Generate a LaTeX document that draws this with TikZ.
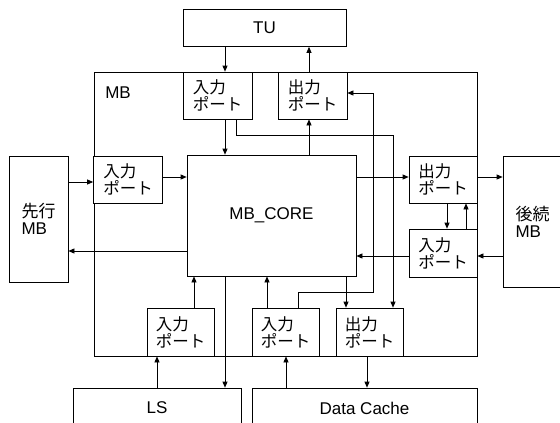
\documentclass[tikz,border=0pt]{standalone}
\usepackage{fontspec}
\setmainfont{Liberation Sans}
\newfontfamily\jp{Noto Sans CJK JP}
\usetikzlibrary{arrows.meta}
\begin{document}
\begin{tikzpicture}[x=1pt,y=-1pt,
  box/.style={draw, line width=0.7pt, inner sep=0pt, fill=white},
  port/.style={box, minimum width=69pt, minimum height=47pt, align=left, font=\jp\fontsize{16.5}{17}\selectfont},
  unit/.style={box, align=center, font=\fontsize{17}{17}\selectfont},
  arr/.style={line width=0.7pt, -{Triangle[length=6pt,width=5pt]}}]
\useasboundingbox (0,0) rectangle (560,423);
\clip (0,0) rectangle (560,423);
% columns and rows
\coordinate (x157) at (157,0); \coordinate (x194) at (194,0);
\coordinate (x225) at (225,0); \coordinate (x236) at (236,0);
\coordinate (x267) at (267,0); \coordinate (x286) at (286,0);
\coordinate (x298) at (298,0); \coordinate (x309) at (309,0);
\coordinate (x346) at (346,0); \coordinate (x367) at (367,0);
\coordinate (x373) at (373,0); \coordinate (x393) at (393,0);
\coordinate (x447) at (447,0); \coordinate (x466) at (466,0);
\coordinate (y93) at (0,93); \coordinate (y135) at (0,135);
\coordinate (y177) at (0,177); \coordinate (y182) at (0,182);
\coordinate (y251) at (0,251); \coordinate (y256) at (0,256);
\coordinate (y292) at (0,292);
% boxes
\node[box, minimum width=383pt, minimum height=284pt] (mb) at (285.5,214) {};
\node[font=\fontsize{17}{17}\selectfont] (mblabel) at (118,93) {MB};
\node[unit, minimum width=163pt, minimum height=37pt] (TU) at (264.5,28) {TU};
\node[unit, minimum width=169pt, minimum height=121pt] (core) at (271.5,215.5) {MB\_CORE};
\node[unit, align=left, minimum width=59pt, minimum height=126pt] (prev) at (38.5,219) {{\jp 先行}\\MB};
\node[unit, align=left, minimum width=59pt, minimum height=131pt] (next) at (532.5,221.5) {{\jp 後続}\\MB};
\node[unit, minimum width=168pt, minimum height=40pt] (LS) at (157,408) {LS};
\node[unit, minimum width=225pt, minimum height=40pt] (DC) at (364.5,408) {Data Cache};
\node[port] (inT) at (217.5,95.5) {入力\\ポート};
\node[port] (outT) at (312.5,95.5) {出力\\ポート};
\node[port] (inL) at (128,179.5) {入力\\ポート};
\node[port, minimum width=68pt] (outR) at (443,179.5) {出力\\ポート};
\node[port, minimum width=68pt, minimum height=48pt] (inR) at (443,253) {入力\\ポート};
\node[port, minimum width=67pt, minimum height=48pt] (inB1) at (180.5,332) {入力\\ポート};
\node[port, minimum width=67pt, minimum height=48pt] (inB2) at (285.5,332) {入力\\ポート};
\node[port, minimum width=67pt, minimum height=48pt] (outB) at (369.5,332) {出力\\ポート};
% connectors
\draw[arr] (x225 |- TU.south) -- (x225 |- inT.north);
\draw[arr] (x309 |- outT.north) -- (x309 |- TU.south);
\draw[arr] (x225 |- inT.south) -- (x225 |- core.north);
\draw[arr] (x309 |- core.north) -- (x309 |- outT.south);
\draw[arr] (x236 |- inT.south) |- (x393 |- y135) -- (x393 |- outB.north);
\draw[arr] (x298 |- inB2.north) |- (x373 |- y292) -- (x373 |- y93) -- (outT.east |- y93);
\draw[arr] (x346 |- core.south) -- (x346 |- outB.north);
\draw[arr] (inL.east |- y177) -- (core.west |- y177);
\draw[arr] (prev.east |- y182) -- (inL.west |- y182);
\draw[arr] (core.west |- y251) -- (prev.east |- y251);
\draw[arr] (core.east |- y177) -- (outR.west |- y177);
\draw[arr] (outR.east |- y177) -- (next.west |- y177);
\draw[arr] (next.west |- y256) -- (inR.east |- y256);
\draw[arr] (inR.west |- y256) -- (core.east |- y256);
\draw[arr] (x447 |- outR.south) -- (x447 |- inR.north);
\draw[arr] (x466 |- inR.north) -- (x466 |- outR.south);
\draw[arr] (x194 |- inB1.north) -- (x194 |- core.south);
\draw[arr] (x267 |- inB2.north) -- (x267 |- core.south);
\draw[arr] (x225 |- core.south) -- (x225 |- LS.north);
\draw[arr] (x157 |- LS.north) -- (x157 |- inB1.south);
\draw[arr] (x286 |- DC.north) -- (x286 |- inB2.south);
\draw[arr] (x367 |- outB.south) -- (x367 |- DC.north);
\end{tikzpicture}
\end{document}
